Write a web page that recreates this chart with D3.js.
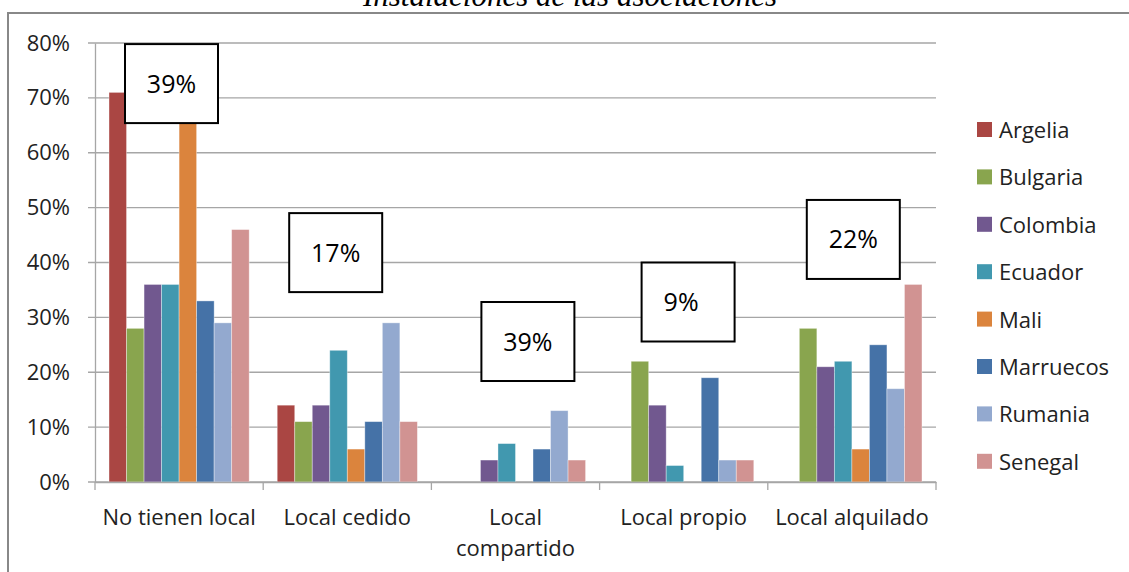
<!DOCTYPE html>
<html><head><meta charset="utf-8">
<script src="https://cdn.jsdelivr.net/npm/d3@7/dist/d3.min.js"></script>
<style>body{margin:0;background:#fff;} svg{display:block;}</style>
</head><body>
<svg id="chart" width="1129" height="572"></svg>
<script>
// ---- DATA ----
const title = "Instalaciones de las asociaciones";
const categories = ["No tienen local", "Local cedido", "Local compartido", "Local propio", "Local alquilado"];
const seriesNames = ["Argelia", "Bulgaria", "Colombia", "Ecuador", "Mali", "Marruecos", "Rumania", "Senegal"];
const argelia   = [71, 14, 0, 0, 0];
const bulgaria  = [28, 11, 0, 22, 28];
const colombia  = [36, 14, 4, 14, 21];
const ecuador   = [36, 24, 7, 3, 22];
const mali      = [78, 6, 0, 0, 6];
const marruecos = [33, 11, 6, 19, 25];
const rumania   = [29, 29, 13, 4, 17];
const senegal   = [46, 11, 4, 4, 36];
const seriesValues = [argelia, bulgaria, colombia, ecuador, mali, marruecos, rumania, senegal];
const boxLabels = ["39%", "17%", "39%", "9%", "22%"];
const yTicks = [0, 10, 20, 30, 40, 50, 60, 70, 80];

// ---- STYLE / LAYOUT ----
const colors = ["#AA4643", "#89A54E", "#71588F", "#4198AF", "#DB843D", "#4572A7", "#93A9CF", "#D19392"];
const boxLayout = [ // offset from band start (px), top in value units
  {dx: 30, top: 79.8}, {dx: 26, top: 49}, {dx: 50, top: 32.8}, {dx: 42, top: 40}, {dx: 39, top: 51.4}
];
const font = "'Open Sans', 'Noto Sans', sans-serif";
const fs = 22;

const svg = d3.select("#chart");
const plot = {left: 95, right: 936, top: 43, bottom: 482};

// outer border
svg.append("rect").attr("x", 8).attr("y", 13).attr("width", 1200).attr("height", 700)
  .attr("fill", "none").attr("stroke", "#888").attr("stroke-width", 2);

// title
svg.append("text").attr("x", 570).attr("y", 6).attr("text-anchor", "middle")
  .attr("font-family", "'Liberation Serif', serif").attr("font-style", "italic")
  .attr("font-size", 31).attr("fill", "#000").text(title);

const x0 = d3.scaleBand().domain(categories).range([plot.left, plot.right]);
const x1 = d3.scaleBand().domain(seriesNames).range([0, x0.bandwidth()]).paddingOuter(0.8).paddingInner(0);
const y = d3.scaleLinear().domain([0, 80]).range([plot.bottom, plot.top]);

// gridlines
svg.append("g").selectAll("line").data(yTicks).join("line")
  .attr("x1", plot.left - 7).attr("x2", plot.right)
  .attr("y1", d => y(d)).attr("y2", d => y(d))
  .attr("stroke", "#a6a6a6").attr("stroke-width", 1.3);

// y axis
const yAxis = d3.axisLeft(y).tickValues(yTicks).tickFormat(d => d + "%").tickSize(0).tickPadding(25);
const gy = svg.append("g").attr("transform", `translate(${plot.left},0)`).call(yAxis);
gy.select(".domain").attr("stroke", "#a6a6a6").attr("stroke-width", 1.3);
gy.selectAll("text").attr("font-family", font).attr("font-size", fs).attr("fill", "#222");

// bars
const groups = svg.append("g").selectAll("g").data(categories).join("g")
  .attr("transform", d => `translate(${x0(d)},0)`);
groups.selectAll("rect").data((c, ci) => seriesNames.map((s, si) => ({s, si, v: seriesValues[si][ci]})))
  .join("rect")
  .attr("x", d => x1(d.s)).attr("width", x1.bandwidth())
  .attr("y", d => y(d.v)).attr("height", d => y(0) - y(d.v))
  .attr("fill", d => colors[d.si])
  .attr("stroke", "rgba(255,255,255,0.45)").attr("stroke-width", 0.8);

// x axis
const xAxis = d3.axisBottom(x0).tickSize(0).tickFormat("");
const gx = svg.append("g").attr("transform", `translate(0,${plot.bottom})`).call(xAxis);
gx.select(".domain").attr("stroke", "#a6a6a6").attr("stroke-width", 1.3);
// tick marks at band boundaries
const bounds = categories.map(c => x0(c)).concat([plot.right]);
svg.append("g").selectAll("line").data(bounds).join("line")
  .attr("x1", d => d).attr("x2", d => d).attr("y1", plot.bottom).attr("y2", plot.bottom + 8)
  .attr("stroke", "#a6a6a6").attr("stroke-width", 1.3);

// category labels (wrapped)
const wrapMap = {"Local compartido": ["Local", "compartido"]};
svg.append("g").selectAll("text").data(categories).join("text")
  .attr("x", d => x0(d) + x0.bandwidth() / 2).attr("y", 525)
  .attr("text-anchor", "middle").attr("font-family", font).attr("font-size", fs).attr("fill", "#222")
  .each(function(d) {
    const lines = wrapMap[d] || [d];
    d3.select(this).selectAll("tspan").data(lines).join("tspan")
      .attr("x", x0(d) + x0.bandwidth() / 2).attr("dy", (l, i) => i === 0 ? 0 : 31).text(l => l);
  });

// annotation boxes
const bw = 93, bh = 79;
const boxes = svg.append("g").selectAll("g").data(categories).join("g")
  .attr("transform", (c, i) => `translate(${x0(c) + boxLayout[i].dx},${y(boxLayout[i].top)})`);
boxes.append("rect").attr("width", bw).attr("height", bh)
  .attr("fill", "#fff").attr("stroke", "#000").attr("stroke-width", 2);
boxes.append("text").attr("x", (c, i) => i === 3 ? bw / 2 - 7 : bw / 2).attr("y", bh / 2 + 9)
  .attr("text-anchor", "middle").attr("font-family", font).attr("font-size", 25).attr("fill", "#000")
  .text((c, i) => boxLabels[i]);

// legend
const legend = svg.append("g").selectAll("g").data(seriesNames).join("g")
  .attr("transform", (d, i) => `translate(977,${130 + i * 47.4})`);
legend.append("rect").attr("x", 0).attr("y", -8).attr("width", 15).attr("height", 15)
  .attr("fill", (d, i) => colors[i]);
legend.append("text").attr("x", 22).attr("y", 8).attr("font-family", font).attr("font-size", fs)
  .attr("fill", "#222").text(d => d);
</script>
</body></html>
